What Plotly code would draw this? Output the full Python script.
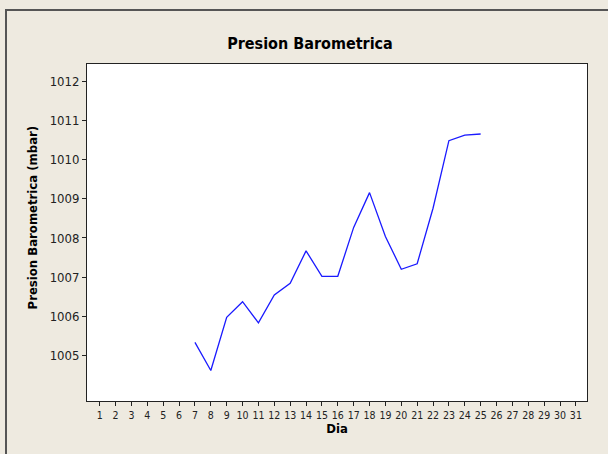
import plotly.graph_objects as go

dias = [7, 8, 9, 10, 11, 12, 13, 14, 15, 16, 17, 18, 19, 20, 21, 22, 23, 24, 25]
presion = [1005.33, 1004.61, 1005.97, 1006.37, 1005.83, 1006.54, 1006.84, 1007.67,
           1007.02, 1007.02, 1008.27, 1009.16, 1008.04, 1007.20, 1007.34, 1008.76,
           1010.49, 1010.63, 1010.66]
x_ticks = list(range(1, 32))
y_ticks = [1005, 1006, 1007, 1008, 1009, 1010, 1011, 1012]

FONT = "DejaVu Sans Condensed, Liberation Sans Narrow, sans-serif"
BG = "#EEEAE0"

W, H = 608, 454
L, R, T, B = 87, 587, 63.5, 400.7
PW, PH = R - L, B - T

fig = go.Figure()
fig.add_trace(go.Scatter(x=dias, y=presion, mode="lines",
                         line=dict(color="#1A1AFF", width=1.3),
                         showlegend=False, hoverinfo="x+y"))

fig.update_layout(
    width=W, height=H,
    margin=dict(l=L, r=W - R, t=T, b=H - B),
    paper_bgcolor=BG, plot_bgcolor="white",
    title=dict(text="<b>Presion Barometrica</b>", x=310 / W, xanchor="center",
               y=1 - 43 / H, yanchor="middle",
               font=dict(family=FONT, size=16, color="black")),
    xaxis=dict(range=[0.2, 31.7], tickvals=x_ticks, ticktext=[str(v) for v in x_ticks],
               showgrid=False, zeroline=False, showline=True, mirror=True,
               linecolor="#222", linewidth=1, ticks="outside", ticklen=4,
               tickcolor="#222", tickfont=dict(family=FONT, size=10.5, color="#222"),
               title=dict(text="<b>Dia</b>", standoff=4,
                          font=dict(family=FONT, size=13, color="black"))),
    yaxis=dict(range=[1003.83, 1012.45], tickvals=y_ticks,
               showgrid=False, zeroline=False, showline=True, mirror=True,
               linecolor="#222", linewidth=1, ticks="outside", ticklen=4,
               tickcolor="#222", tickfont=dict(family=FONT, size=13, color="#222")),
)

# y axis title as annotation (Minitab places it slightly above plot centre)
fig.add_annotation(text="<b>Presion Barometrica (mbar)</b>", textangle=-90,
                   xref="paper", yref="paper", x=(32 - L) / PW, y=(B - 217) / PH,
                   xanchor="center", yanchor="middle", showarrow=False,
                   font=dict(family=FONT, size=13, color="black"))

# outer frame
fig.add_shape(type="rect", xref="paper", yref="paper",
              x0=(6 - L) / PW, x1=1.2, y0=-0.3, y1=(B - 9.5) / PH,
              line=dict(color="#555555", width=2), fillcolor="rgba(0,0,0,0)", layer="below")

fig.write_html("out.html", config={"displayModeBar": False},
               post_script="document.body.style.margin='0';document.body.style.overflow='hidden';")
